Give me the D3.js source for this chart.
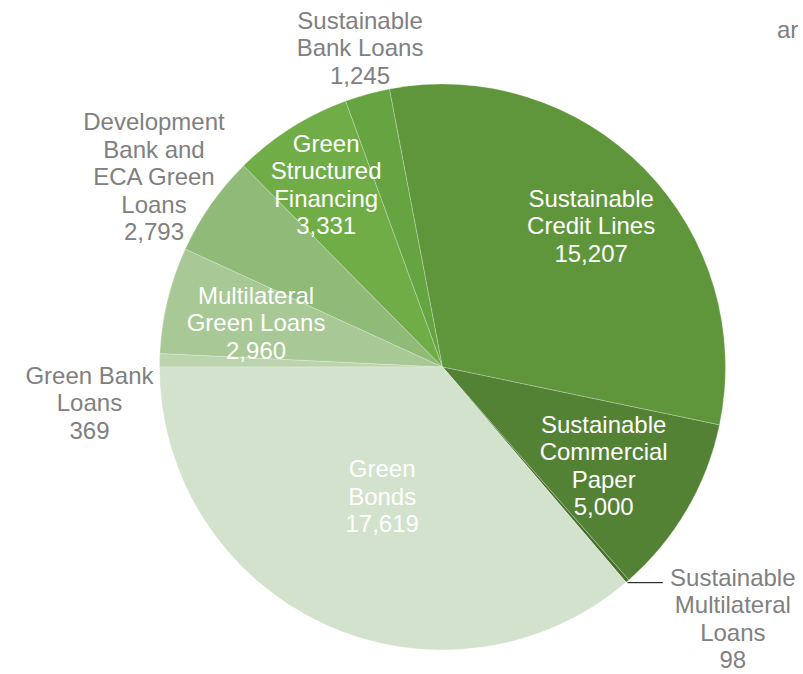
<!DOCTYPE html>
<html>
<head>
<meta charset="utf-8">
<script src="https://cdn.jsdelivr.net/npm/d3@7"></script>
<style>
  html, body { margin: 0; padding: 0; background: #fff; }
  svg { display: block; }
  text { font-family: "Liberation Sans", Arial, sans-serif; }
</style>
</head>
<body>
<script>
// Sustainable & green financing by instrument (clockwise from 9 o'clock)
const categories = [
  ["Green Bank", "Loans"],
  ["Multilateral", "Green Loans"],
  ["Development", "Bank and", "ECA Green", "Loans"],
  ["Green", "Structured", "Financing"],
  ["Sustainable", "Bank Loans"],
  ["Sustainable", "Credit Lines"],
  ["Sustainable", "Commercial", "Paper"],
  ["Sustainable", "Multilateral", "Loans"],
  ["Green", "Bonds"]
];
const values = [369, 2960, 2793, 3331, 1245, 15207, 5000, 98, 17619];

// slice fills
const colors = ["#bbd4ae", "#a8c996", "#8fba77", "#70ad47", "#66a341",
                "#5f963b", "#548235", "#46702d", "#d3e2cc"];
// label placement: inside/outside, radius factor and angular nudge (degrees)
const labelInside = [false, true, false, true, false, true, true, false, true];
const labelRadius = [1.254, 0.677, 1.221, 0.765, 1.164, 0.724, 0.668, 1.357, 0.505];
const labelNudge  = [-7.2, -0.4, -1.6, -0.16, 0.9, 1.0, 1.2, -8.3, 0.2];
const leaderLine  = [false, false, false, false, false, false, false, true, false];

const W = 803, H = 674;
const cx = 442.5, cy = 367, R = 283;
const fontSize = 24, lineH = 27.5;
const fmt = d3.format(",");

const svg = d3.select("body").append("svg")
  .attr("width", W).attr("height", H);

const data = values.map((v, i) => ({ i, value: v }));
const pie = d3.pie().value(d => d.value).sort(null)
  .startAngle(-Math.PI / 2).endAngle(1.5 * Math.PI);
const arcs = pie(data);
const arc = d3.arc().innerRadius(0).outerRadius(R);

const g = svg.append("g").attr("transform", `translate(${cx},${cy})`);

g.selectAll("path.slice").data(arcs).join("path")
  .attr("class", "slice")
  .attr("d", arc)
  .attr("fill", d => colors[d.data.i])
  .attr("stroke", "rgba(255,255,255,0.35)")
  .attr("stroke-width", 0.7);

const polar = (a, r) => [r * Math.sin(a), -r * Math.cos(a)];
const deg = Math.PI / 180;

arcs.forEach(d => {
  const i = d.data.i;
  const mid = (d.startAngle + d.endAngle) / 2;
  const [lx, ly] = polar(mid + labelNudge[i] * deg, labelRadius[i] * R);
  const lines = categories[i].concat([fmt(values[i])]);
  const fill = labelInside[i] ? "#ffffff" : "#808080";

  if (leaderLine[i]) {
    const [px, py] = polar(mid, R);
    const textLeft = lx - 63;
    g.append("line")
      .attr("x1", px).attr("y1", py + 1.5)
      .attr("x2", textLeft - 7).attr("y2", py + 1.5)
      .attr("stroke", "#000").attr("stroke-width", 1);
  }

  const t = g.append("text")
    .attr("text-anchor", "middle")
    .attr("font-size", fontSize)
    .attr("fill", fill);
  const top = ly - (lines.length - 1) / 2 * lineH;
  lines.forEach((s, k) => {
    t.append("tspan")
      .attr("x", lx)
      .attr("y", top + k * lineH)
      .attr("dy", "0.35em")
      .text(s);
  });
});

// title fragment at the right edge
svg.append("text")
  .attr("x", 777).attr("y", 30).attr("dy", "0.35em")
  .attr("font-size", fontSize)
  .attr("fill", "#808080")
  .text("ar");
</script>
</body>
</html>
